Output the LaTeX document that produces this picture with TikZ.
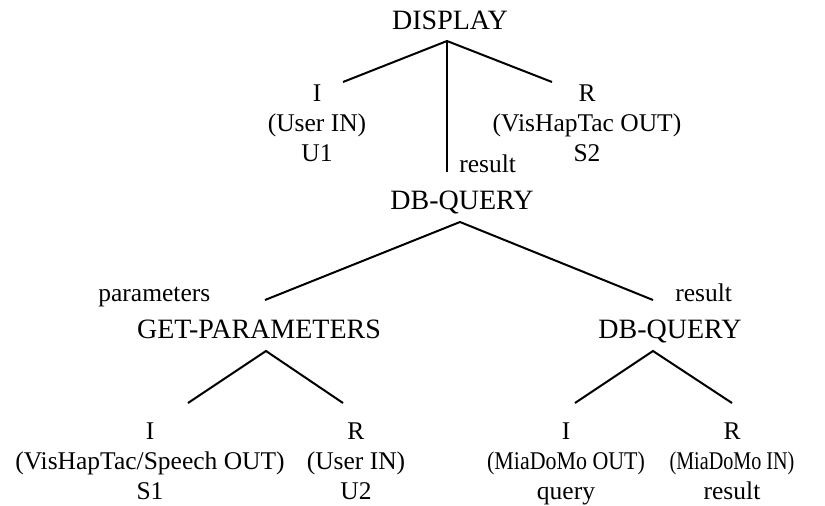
\documentclass[tikz,border=0pt]{standalone}
\usepackage{fontspec}
\setmainfont{Liberation Serif}

\tikzset{
  cat/.style={inner sep=0pt, anchor=base, font=\fontsize{14}{16}\selectfont},
  leaf/.style={inner sep=0pt, anchor=base, align=center, font=\fontsize{12.75}{15}\selectfont},
  role/.style={inner sep=0pt, anchor=base west, font=\fontsize{12.75}{15}\selectfont},
  edge/.style={line width=1pt, line join=miter}
}
\newcommand{\squeezed}[2]{\scalebox{#1}[1]{#2}}

\begin{document}
\begin{tikzpicture}[x=0.5pt, y=-0.5pt]
  \useasboundingbox (0,0) rectangle (825,505);
  % nodes of the tree (base = last line)
  \node[cat] (display) at (450,29) {DISPLAY};
  \node[leaf] (u1) at (317,161) {I\\(User IN)\\U1};
  \node[leaf] (s2) at (587,161) {R\\(VisHapTac OUT)\\S2};
  \node[cat] (query) at (462,209) {DB-QUERY};
  \node[cat] (getpar) at (259,338) {GET-PARAMETERS};
  \node[cat] (dbq) at (670,338) {DB-QUERY};
  \node[leaf] (s1) at (150,499) {I\\(VisHapTac/Speech OUT)\\S1};
  \node[leaf] (u2) at (356,499) {R\\(User IN)\\U2};
  \node[leaf] (qry) at (566,499) {I\\\squeezed{0.86}{(MiaDoMo OUT)}\\query};
  \node[leaf] (res) at (732,499) {R\\\squeezed{0.79}{(MiaDoMo IN)}\\result};
  % role labels
  \node[role] (lres) at (459,172) {result};
  \node[role] (lpar) at (98,301) {parameters};
  \node[role] (lres2) at (675,301) {result};
  % joints and branch ends
  \coordinate (display-j) at (447,41);
  \coordinate (u1-e) at (343,82);
  \coordinate (s2-e) at (552,82);
  \coordinate (query-e) at (447,172);
  \coordinate (query-j) at (460,222);
  \coordinate (getpar-e) at (265,300);
  \coordinate (dbq-e) at (653,300);
  \coordinate (getpar-j) at (266,351);
  \coordinate (s1-e) at (188,403);
  \coordinate (u2-e) at (343,403);
  \coordinate (dbq-j) at (653,351);
  \coordinate (qry-e) at (575,403);
  \coordinate (res-e) at (732,403);
  % branches
  \draw[edge] (u1-e) -- (display-j) -- (s2-e);
  \draw[edge] (display-j) -- (query-e);
  \draw[edge] (getpar-e) -- (query-j) -- (dbq-e);
  \draw[edge] (s1-e) -- (getpar-j) -- (u2-e);
  \draw[edge] (qry-e) -- (dbq-j) -- (res-e);
\end{tikzpicture}
\end{document}
